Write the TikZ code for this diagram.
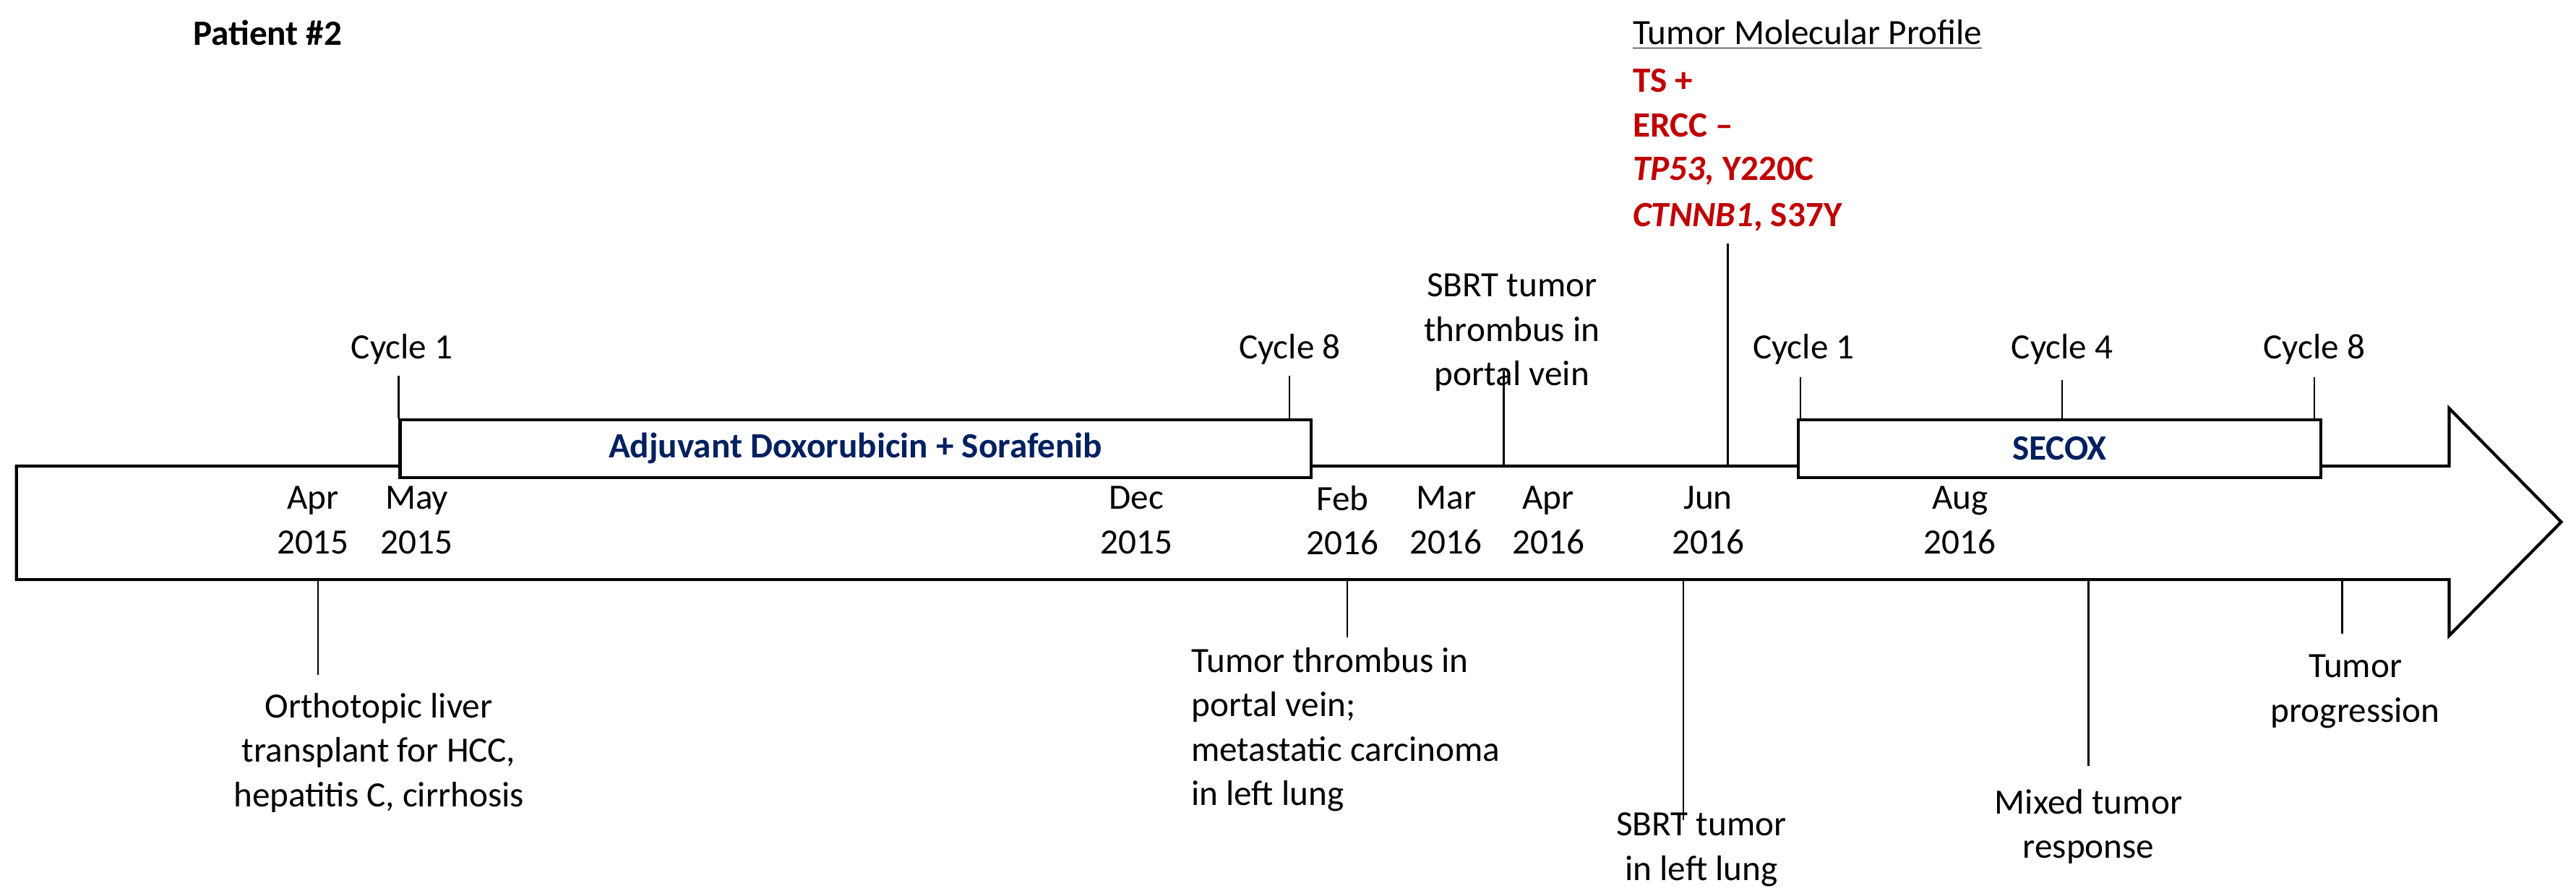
\documentclass[tikz,border=0pt]{standalone}
\usepackage{fontspec}
\setmainfont{Carlito}
\begin{document}
\begin{tikzpicture}[x=0.0228cm,y=-0.0228cm,
  every node/.style={font=\fontsize{14}{17.5}\selectfont, inner sep=0pt},
  lbl/.style={align=center},
  tick/.style={draw=black, line width=0.6pt},
  red/.style={text=rederr, font=\fontsize{14}{17.5}\selectfont\bfseries, anchor=west},
  tbox/.style={draw=black, line width=1.2pt, fill=white}]
\definecolor{rederr}{HTML}{C00000}
\definecolor{navy}{HTML}{002060}
\useasboundingbox (0,0) rectangle (1564,544);
% main arrow
\draw[line width=1.2pt, fill=white] (10,283) -- (1487,283) -- (1487,248) -- (1555,317) -- (1487,386) -- (1487,352) -- (10,352) -- cycle;
% boxes
\node[tbox, minimum width=553*0.0228cm, minimum height=35*0.0228cm, anchor=north west, text=navy, font=\fontsize{14}{17.5}\selectfont\bfseries] (adj) at (242,254) {Adjuvant Doxorubicin + Sorafenib};
\node[tbox, minimum width=317*0.0228cm, minimum height=35*0.0228cm, anchor=north west, text=navy, font=\fontsize{14}{17.5}\selectfont\bfseries] (secox) at (1091,254) {SECOX};
% cycles
\node (c1) at (244,212) {Cycle 1};
\node (c8) at (783,212) {Cycle 8};
\node (s1) at (1095,212) {Cycle 1};
\node (s4) at (1252,212) {Cycle 4};
\node (s8) at (1405,212) {Cycle 8};
\coordinate (c1b) at (242,254); \coordinate (c8b) at (783,254);
\coordinate (s1b) at (1093,254); \coordinate (s4b) at (1252,254); \coordinate (s8b) at (1405,254);
\draw[tick] (242,228) -- (c1b);
\draw[tick] (783,228) -- (c8b);
\draw[tick] (1093,229) -- (s1b);
\draw[tick] (1252,231) -- (s4b);
\draw[tick] (1405,229) -- (s8b);
% SBRT top
\node[lbl] (sbrt1) at (918,202) {SBRT tumor\\thrombus in\\portal vein};
\coordinate (sb1a) at (913,225); \coordinate (sb1b) at (913,283);
\draw[tick] (sb1a) -- (sb1b);
% Molecular profile
\coordinate (mpa) at (1049,148); \coordinate (mpb) at (1049,283);
\draw[tick] (mpa) -- (mpb);
\node[anchor=west] (mp) at (991,21) {\underline{Tumor Molecular Profile}};
\node[red] (ts) at (991,49) {TS +};
\node[red] (ercc) at (991,76) {ERCC --};
\node[red] (tp) at (991,104) {\itshape TP53,\upshape{} Y220C};
\node[red] (ct) at (991,132) {\itshape CTNNB1\upshape, S37Y};
% patient
\node[anchor=west, font=\fontsize{14}{17.5}\selectfont\bfseries] (pt) at (117,20) {Patient \#2};
% dates
\foreach \x/\m/\yr [count=\i] in {190/Apr/2015,253/May/2015,690/Dec/2015,815/Feb/2016,878/Mar/2016,940/Apr/2016,1037/Jun/2016,1190/Aug/2016}
  \node[lbl] (d\i) at (\x,316) {\m\\\yr};
% bottom events
\coordinate (e1a) at (193,352); \coordinate (e1b) at (193,410);
\draw[tick] (e1a) -- (e1b);
\node[lbl] (e1) at (230,457) {Orthotopic liver\\transplant for HCC,\\hepatitis C, cirrhosis};
\coordinate (e2a) at (818,352); \coordinate (e2b) at (818,387);
\draw[tick] (e2a) -- (e2b);
\node[align=left, anchor=north west] (e2) at (723,393) {Tumor thrombus in\\portal vein;\\metastatic carcinoma\\in left lung};
\coordinate (e3a) at (1022,352); \coordinate (e3b) at (1022,498);
\draw[tick] (e3a) -- (e3b);
\node[lbl] (e3) at (1033,516) {SBRT tumor\\in left lung};
\coordinate (e4a) at (1268,352); \coordinate (e4b) at (1268,465);
\draw[tick] (e4a) -- (e4b);
\node[lbl] (e4) at (1268,502) {Mixed tumor\\response};
\coordinate (e5a) at (1422,352); \coordinate (e5b) at (1422,385);
\draw[tick] (e5a) -- (e5b);
\node[lbl] (e5) at (1430,420) {Tumor\\progression};
\end{tikzpicture}
\end{document}
